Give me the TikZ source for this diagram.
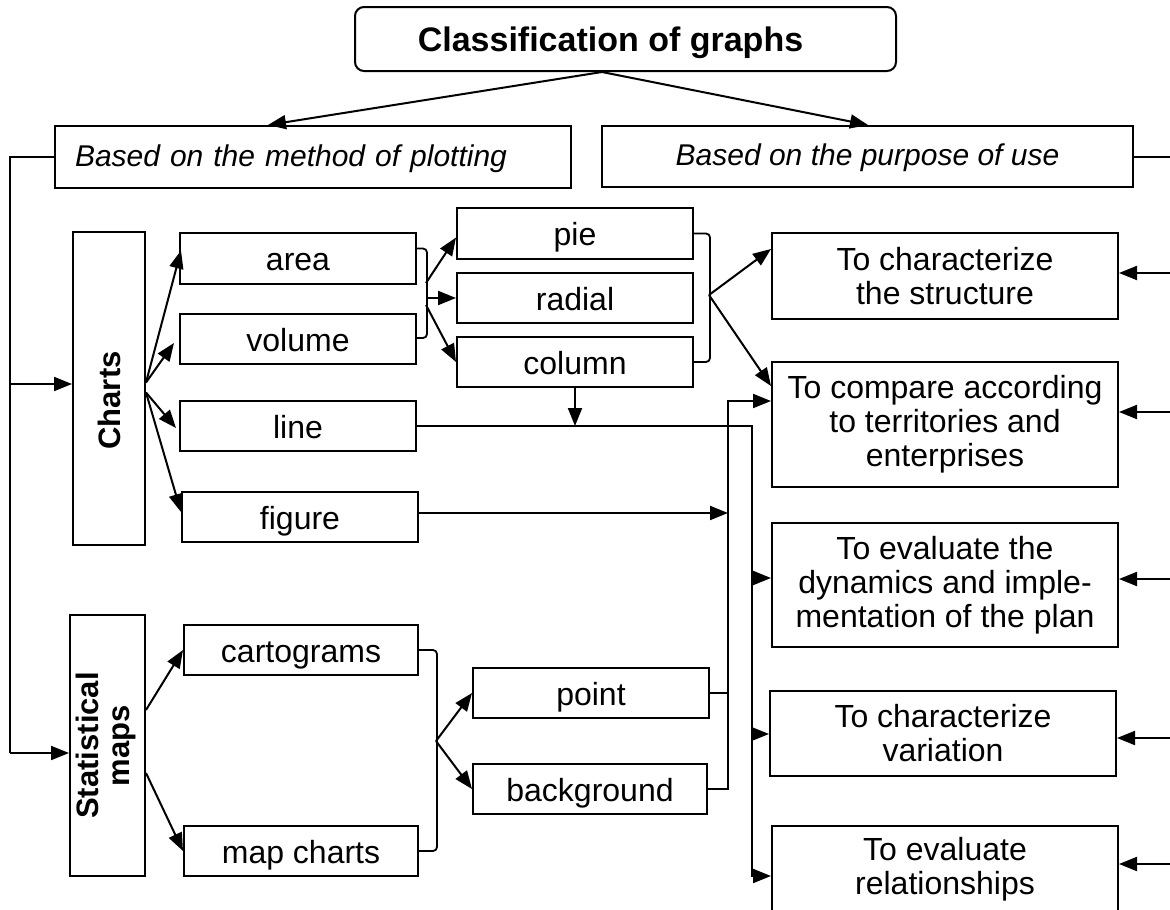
\documentclass[tikz,border=0pt]{standalone}
\usepackage{fontspec}
\setmainfont{Liberation Sans}
\usetikzlibrary{arrows.meta,calc}
\begin{document}
\begin{tikzpicture}[x=1pt,y=-1pt,
  box/.style={draw, line width=2pt, inner sep=0pt,
    font=\fontsize{32}{34}\selectfont},
  one/.style={text height=26pt, text depth=2pt},
  many/.style={align=center},
  arr/.style={line width=2pt, -{Triangle[length=18pt,width=14pt]}},
  wire/.style={line width=2pt},
  brk/.style={line width=1.8pt, rounded corners=4pt}]
\useasboundingbox (0,0) rectangle (1170,910);

% ---- top level ----
\node[box, one, rounded corners=9pt, minimum width=541, minimum height=64,
  font=\fontsize{34}{36}\selectfont\bfseries] (title) at (625.5,39) {Classification of graphs\hspace*{30pt}};
\node[box, minimum height=62, text width=476, inner xsep=20pt, align=left,
  text height=21pt, text depth=3pt,
  font=\fontsize{30}{34}\selectfont\itshape] (method) at (313,157) {Based on the method of plotting};
\node[box, minimum width=531, minimum height=61, text height=21pt, text depth=3pt,
  font=\fontsize{30}{34}\selectfont\itshape] (purpose) at (867.5,156.5) {Based on the purpose of use};

% ---- charts branch ----
\node[box, minimum width=72, minimum height=313, font=\fontsize{31}{34}\selectfont\bfseries]
  (charts) at (109,388.5) {\rotatebox{90}{Charts\hspace*{24pt}}};
\node[box, one, minimum width=236, minimum height=51] (area)   at (298,258.5) {area};
\node[box, one, minimum width=236, minimum height=50] (volume) at (298,339) {volume};
\node[box, one, minimum width=236, minimum height=50] (line)   at (298,426) {line};
\node[box, one, minimum width=236, minimum height=50] (figure) at (300,517) {figure};
\node[box, one, minimum width=236, minimum height=51] (pie)    at (575,233.5) {pie};
\node[box, one, minimum width=236, minimum height=50] (radial) at (575,298) {radial};
\node[box, one, minimum width=236, minimum height=50] (column) at (575,362) {column};

% ---- statistical maps branch ----
\node[box, minimum width=75, minimum height=261, font=\fontsize{31}{31}\selectfont\bfseries]
  (stat) at (107.5,745.5) {\rotatebox{90}{\begin{tabular}{@{}c@{}}Statistical\\maps\end{tabular}}};
\node[box, one, minimum width=234, minimum height=50] (carto) at (301,650) {cartograms};
\node[box, one, minimum width=234, minimum height=50] (mapch) at (301,851) {map charts};
\node[box, one, minimum width=236, minimum height=50] (point) at (591,693) {point};
\node[box, one, minimum width=234, minimum height=50] (backg) at (590,789) {background};

% ---- purposes ----
\node[box, many, minimum width=346, minimum height=86]  (struct)    at (945,276) {To characterize\\the structure};
\node[box, many, minimum width=346, minimum height=125] (compare)   at (945,424.5) {To compare according\\to territories and\\enterprises};
\node[box, many, minimum width=346, minimum height=124] (dynamics)  at (945,585) {To evaluate the\\dynamics and imple-\\mentation of the plan};
\node[box, many, minimum width=346, minimum height=85]  (variation) at (943,733.5) {To characterize\\variation};
\node[box, many, minimum width=346, minimum height=86]  (relat)     at (945,869) {To evaluate\\relationships};

% ---- title split ----
\draw[arr] ([xshift=-23.5pt]title.south) -- ([xshift=-45pt]method.north);
\draw[arr] ([xshift=-23.5pt]title.south) -- ([xshift=0.5pt]purpose.north);

% ---- left bus ----
\coordinate (lb) at (10,753);
\coordinate (lc) at (10,384);
\draw[wire] (method.west) -| (lb);
\draw[arr] (lc) -- (lc -| charts.west);
\draw[arr] (lb) -- (lb -| stat.west);

% ---- charts fan ----
\coordinate (cf1) at ($(charts.east)+(0,-6)$);
\coordinate (cf2) at ($(charts.east)+(0,4)$);
\draw[arr] (cf1) -- ($(area.west)+(2,-8)$);
\draw[arr] (cf1) -- ($(volume.west)+(-5,4)$);
\draw[arr] (cf2) -- ($(line.west)+(-3,2)$);
\draw[arr] (cf2) -- ($(figure.west)+(0,-5)$);

% ---- area / volume -> pie, radial, column ----
\draw[brk] ($(area.east)+(0,-10)$) -- ++(10,0) |- ($(volume.east)+(0,-1)$);
\coordinate (av) at (426,283);
\draw[arr] (av) -- ($(pie.west)+(0,4)$);
\draw[arr] (radial.west -| av) -- (radial.west);
\draw[arr] ($(av)+(0,22)$) -- (column.west);

% ---- pie, radial, column -> structure, comparison ----
\draw[brk] (pie.east) -- ++(16,0) |- (column.east);
\coordinate (pc) at (709,295);
\draw[arr] (pc) -- ($(struct.west)+(0,-27)$);
\draw[arr] (pc) -- ($(compare.north west)+(0,25)$);

% ---- column down onto the line wire ----
\draw[arr] (column.south) -- (column.south |- line.east);

% ---- line wire and right distribution bus ----
\coordinate (rb) at (752,876);
\draw[arr] (line.east) -| (rb) -- (rb -| relat.west);
\coordinate (rd) at (752,578);
\draw[arr] (rd) -- (rd -| dynamics.west);
\coordinate (rv) at (752,734);
\draw[arr] (rv) -- (rv -| variation.west);

% ---- maps bracket and left distribution bus ----
\draw[brk] (carto.east) -- ++(18,0) |- (mapch.east);
\coordinate (cm) at (436,741);
\draw[arr] (cm) -- (point.west);
\draw[arr] (cm) -- (backg.west);
\draw[arr] ($(stat.east)+(0,-35.5)$) -- (carto.west);
\draw[arr] ($(stat.east)+(0,27.5)$) -- (mapch.west);

\coordinate (lt) at (728,401);
\draw[arr] (backg.east) -| (lt) -- (lt -| compare.west);
\draw[brk] (point.east) -- (point.east -| lt);
\draw[arr] ($(figure.east)+(0,-4)$) -- ($(figure.east -| lt)+(0,-4)$);

% ---- right-hand feeds ----
\coordinate (rp) at (1170,156.5);
\draw[wire] (purpose.east) -- (rp);
\coordinate (r1) at (1170,273);
\coordinate (r2) at (1170,412);
\coordinate (r3) at (1170,579);
\coordinate (r4) at (1170,738);
\coordinate (r5) at (1170,864);
\draw[arr] (r1) -- (r1 -| struct.east);
\draw[arr] (r2) -- (r2 -| compare.east);
\draw[arr] (r3) -- (r3 -| dynamics.east);
\draw[arr] (r4) -- (r4 -| variation.east);
\draw[arr] (r5) -- (r5 -| relat.east);
\end{tikzpicture}
\end{document}
